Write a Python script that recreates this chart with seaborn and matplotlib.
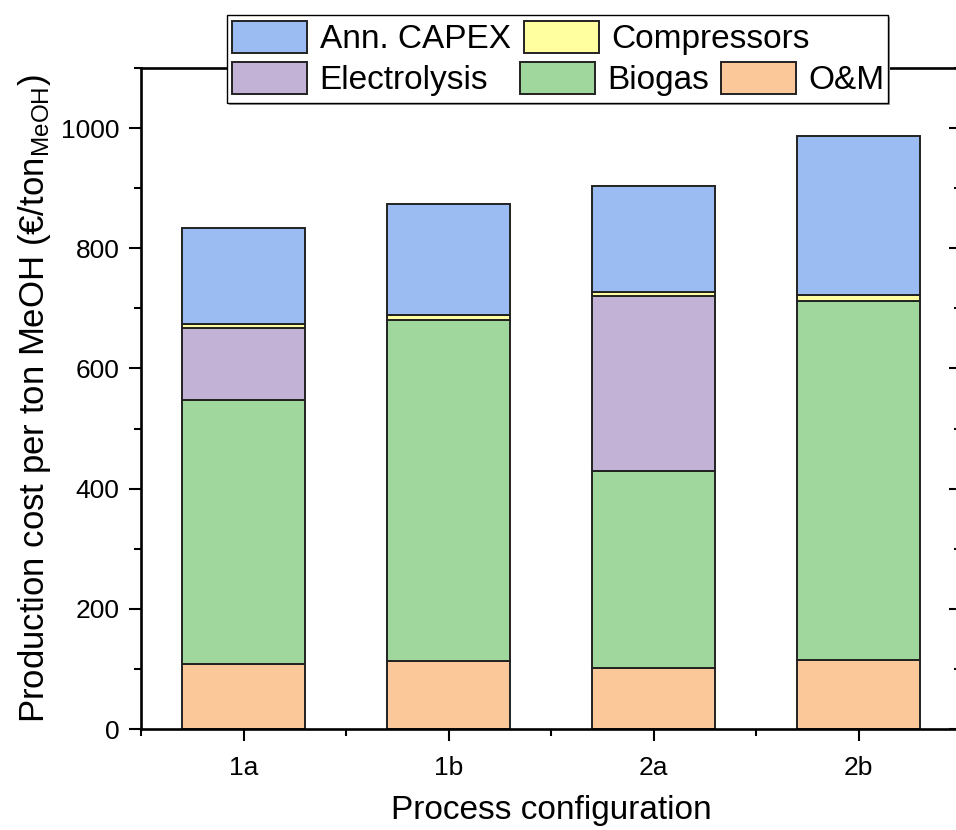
import matplotlib
matplotlib.use("Agg")
import matplotlib.pyplot as plt
import matplotlib.patches as mpatches
import matplotlib.lines as mlines
from matplotlib.ticker import MultipleLocator, FixedLocator
import seaborn as sns
import pandas as pd
import numpy as np

categories = ["1a", "1b", "2a", "2b"]
om = [108, 113, 102, 115]
biogas = [439, 568, 327, 597]
electrolysis = [121, 0, 291, 0]
compressors = [6, 8, 7, 11]
capex = [160, 184, 176, 264]

series_names = ["O&M", "Biogas", "Electrolysis", "Compressors", "Ann. CAPEX"]
series_vals = [om, biogas, electrolysis, compressors, capex]
colors = {"O&M": "#FBC899", "Biogas": "#9FD79D", "Electrolysis": "#C2B2D6",
          "Compressors": "#FFFFA0", "Ann. CAPEX": "#9BBBF3"}

sns.set_theme(style="white")
plt.rcParams["font.family"] = ["Liberation Sans", "DejaVu Sans"]
plt.rcParams["mathtext.fontset"] = "custom"
plt.rcParams["mathtext.rm"] = "Liberation Sans"
plt.rcParams["mathtext.it"] = "Liberation Sans:italic"
for k in ["text.color", "axes.labelcolor", "xtick.color", "ytick.color", "axes.edgecolor"]:
    plt.rcParams[k] = "black"

W, H = 956, 830
fig = plt.figure(figsize=(W / 100, H / 100), dpi=100)
ax = fig.add_axes([141 / W, 101 / H, 820 / W, 661 / H])

bottom = np.zeros(len(categories))
handles = {}
for name, vals in zip(series_names, series_vals):
    df = pd.DataFrame({"cat": categories, "val": vals})
    sns.barplot(data=df, x="cat", y="val", ax=ax, color=colors[name],
                bottom=bottom.copy(), width=0.6, edgecolor="#222222",
                linewidth=1.4, saturation=1, errorbar=None)
    handles[name] = ax.containers[-1]
    bottom += np.array(vals)

ax.set_xlim(-0.5, 3.5)
ax.set_ylim(0, 1100)
ax.yaxis.set_major_locator(MultipleLocator(200))
ax.yaxis.set_minor_locator(MultipleLocator(100))
ax.xaxis.set_minor_locator(FixedLocator([-0.5, 0.5, 1.5, 2.5, 3.5]))

for s in ax.spines.values():
    s.set_visible(True)
    s.set_linewidth(1.9)
    s.set_color("black")

ax.tick_params(axis="y", which="major", direction="out", length=8.5, width=1.5,
               left=True, right=True, labelsize=19, pad=7)
ax.tick_params(axis="y", which="minor", direction="out", length=5, width=1.5,
               left=True, right=True)
ax.tick_params(axis="x", which="major", direction="out", length=8.5, width=1.5,
               bottom=True, top=False, labelsize=19, pad=11)
ax.tick_params(axis="x", which="minor", direction="out", length=5, width=1.5,
               bottom=True, top=False)
for t in ax.yaxis.get_major_ticks() + ax.yaxis.get_minor_ticks():
    t.tick2line.set_marker(mlines.TICKLEFT)

ax.set_xlabel("Process configuration", fontsize=24, labelpad=11)
ax.set_ylabel(r"Production cost per ton MeOH (€/ton$_{\mathrm{MeOH}}$)", fontsize=25, labelpad=6)

# legend frame (flow layout like the original)
fx0, fy0, fx1, fy1 = 227, 15, 888, 103
shadow = mpatches.Rectangle(((fx0 + 2) / W, 1 - (fy1 + 2) / H), (fx1 - fx0) / W, (fy1 - fy0) / H,
                            transform=fig.transFigure, facecolor="#9a9a9a", edgecolor="none", zorder=3)
frame = mpatches.Rectangle((fx0 / W, 1 - fy1 / H), (fx1 - fx0) / W, (fy1 - fy0) / H,
                           transform=fig.transFigure, facecolor="white", edgecolor="black",
                           linewidth=1.0, zorder=4)
fig.patches.extend([shadow, frame])

entries = [("Ann. CAPEX", 232, 21), ("Compressors", 524, 21),
           ("Electrolysis", 232, 62), ("Biogas", 520, 62), ("O&M", 721, 62)]
for name, px, py in entries:
    lg = fig.legend([handles[name]], [name], loc="upper left",
                    bbox_to_anchor=(px / W, 1 - py / H), fontsize=24, frameon=False,
                    handlelength=2.25, handleheight=1.1, handletextpad=0.38,
                    borderpad=0, borderaxespad=0)
    lg.set_zorder(6)

fig.savefig("out.png", dpi=100)
